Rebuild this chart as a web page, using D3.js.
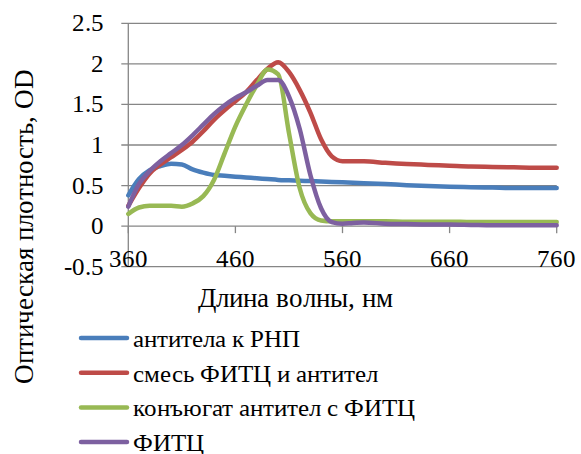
<!DOCTYPE html>
<html>
<head>
<meta charset="utf-8">
<script src="https://cdn.jsdelivr.net/npm/d3@7"></script>
<style>
  @font-face { font-family: 'ChartSerif'; src: local('Liberation Serif'), local('LiberationSerif-Regular'), local('Times New Roman'); }
  body { margin: 0; background: #fff; }
  svg text { font-family: 'ChartSerif', 'Liberation Serif', 'Times New Roman', serif; }
</style>
</head>
<body>
<div id="chart"></div>
<script>
// wavelengths, nm
const wavelengths = [360, 370, 380, 390, 400, 410, 420, 430, 440, 450, 460, 470, 480, 490, 500,
  510, 520, 530, 540, 550, 560, 570, 580, 600, 620, 640, 660, 680, 700, 720, 740, 760]

const antibodies = [0.38, 0.58, 0.69, 0.74, 0.77, 0.76, 0.70, 0.66, 0.63, 0.62, 0.61, 0.60, 0.59, 0.58, 0.57,
  0.565, 0.56, 0.555, 0.55, 0.545, 0.54, 0.535, 0.53, 0.52, 0.505, 0.495, 0.485, 0.48, 0.475, 0.47, 0.47, 0.47]
const mixture = [0.25, 0.47, 0.65, 0.76, 0.85, 0.94, 1.04, 1.17, 1.31, 1.43, 1.54, 1.65, 1.80, 1.94, 2.02,
  1.90, 1.68, 1.40, 1.07, 0.86, 0.80, 0.80, 0.80, 0.78, 0.765, 0.755, 0.745, 0.735, 0.73, 0.725, 0.72, 0.72]
const conjugate = [0.15, 0.23, 0.25, 0.25, 0.25, 0.24, 0.28, 0.37, 0.57, 0.90, 1.23, 1.50, 1.74, 1.93, 1.87,
  1.15, 0.47, 0.16, 0.07, 0.06, 0.06, 0.06, 0.06, 0.06, 0.055, 0.055, 0.055, 0.05, 0.05, 0.05, 0.05, 0.05]
const fitc = [0.24, 0.52, 0.68, 0.80, 0.90, 1.00, 1.12, 1.25, 1.38, 1.49, 1.58, 1.65, 1.73, 1.80, 1.80,
  1.60, 1.20, 0.63, 0.22, 0.05, 0.03, 0.04, 0.045, 0.03, 0.025, 0.02, 0.02, 0.015, 0.01, 0.01, 0.01, 0.01]

const seriesNames = ['антитела к РНП', 'смесь ФИТЦ и антител', 'конъюгат антител с ФИТЦ', 'ФИТЦ']
const seriesColors = ['#4a7ebb', '#be4b48', '#98b954', '#7d60a0']
const xTicks = [360, 460, 560, 660, 760]
const yTicks = [-0.5, 0, 0.5, 1, 1.5, 2, 2.5]

const width = 581
const height = 454

const svg = d3.select('#chart').append('svg')
  .attr('width', width)
  .attr('height', height)

const x = d3.scaleLinear().domain([360, 760]).range([128.3, 556.7])
const y = d3.scaleLinear().domain([-0.5, 2.5]).range([266.7, 23.3])

// horizontal gridlines
svg.selectAll('.grid')
  .data(yTicks.filter(d => d !== 0))
  .enter().append('line')
  .attr('x1', x(360) - 7).attr('x2', x(760))
  .attr('y1', d => y(d)).attr('y2', d => y(d))
  .attr('stroke', '#868686').attr('stroke-width', 1.3)

// y axis line
svg.append('line')
  .attr('x1', x(360)).attr('x2', x(360))
  .attr('y1', y(2.5)).attr('y2', y(-0.5))
  .attr('stroke', '#868686').attr('stroke-width', 1.3)

// x axis at 0 with ticks
svg.append('line')
  .attr('x1', x(360) - 7).attr('x2', x(760))
  .attr('y1', y(0)).attr('y2', y(0))
  .attr('stroke', '#868686').attr('stroke-width', 1.3)
svg.selectAll('.xtick')
  .data(xTicks)
  .enter().append('line')
  .attr('x1', d => x(d)).attr('x2', d => x(d))
  .attr('y1', y(0)).attr('y2', y(0) + 7)
  .attr('stroke', '#868686').attr('stroke-width', 1.3)

// tick labels
svg.selectAll('.ylabel')
  .data(yTicks)
  .enter().append('text')
  .attr('x', 104)
  .attr('y', d => y(d) + 8)
  .attr('text-anchor', 'end')
  .attr('font-size', 25)
  .text(d => d)

svg.selectAll('.xlabel')
  .data(xTicks)
  .enter().append('text')
  .attr('x', d => x(d))
  .attr('y', 267)
  .attr('text-anchor', 'middle')
  .attr('font-size', 25)
  .text(d => d)

// axis titles
svg.append('text')
  .attr('transform', 'translate(33,226) rotate(-90)')
  .attr('text-anchor', 'middle')
  .attr('font-size', 27)
  .text('Оптическая плотность, OD')

svg.append('text')
  .attr('x', 295)
  .attr('y', 307)
  .attr('text-anchor', 'middle')
  .attr('font-size', 27)
  .text('Длина волны, нм')

// series lines
const allSeries = [antibodies, mixture, conjugate, fitc]
const line = d3.line()
  .x((d, i) => x(wavelengths[i]))
  .y(d => y(d))
  .curve(d3.curveMonotoneX)

svg.selectAll('.series')
  .data(allSeries)
  .enter().append('path')
  .attr('d', d => line(d))
  .attr('fill', 'none')
  .attr('stroke', (d, i) => seriesColors[i])
  .attr('stroke-width', 4.5)
  .attr('stroke-linejoin', 'round')
  .attr('stroke-linecap', 'round')

// legend
const legend = svg.selectAll('.legend')
  .data(seriesNames)
  .enter().append('g')
  .attr('transform', (d, i) => 'translate(0,' + (338 + i * 34.7) + ')')

legend.append('line')
  .attr('x1', 81).attr('x2', 127)
  .attr('stroke', (d, i) => seriesColors[i])
  .attr('stroke-width', 4.5)
  .attr('stroke-linecap', 'round')

legend.append('text')
  .attr('x', 133)
  .attr('y', 9)
  .attr('font-size', 25)
  .text(d => d)
</script>
</body>
</html>
